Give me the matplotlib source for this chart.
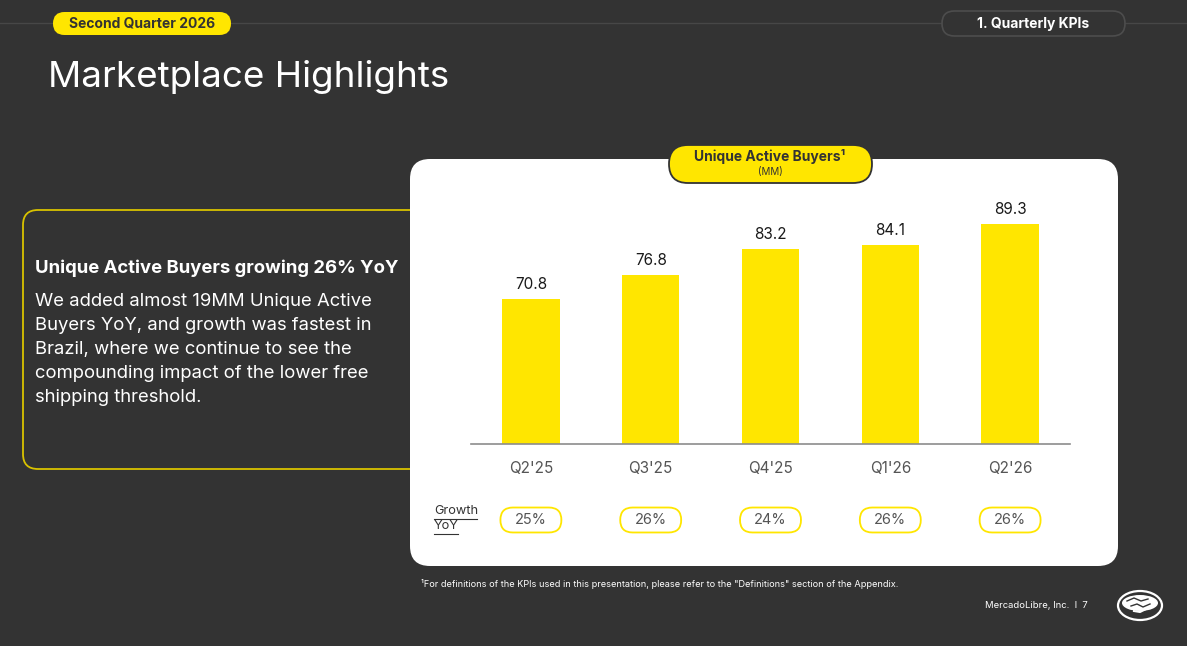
import matplotlib
matplotlib.use("Agg")
import matplotlib.pyplot as plt
from matplotlib.patches import FancyBboxPatch, Ellipse, PathPatch
from matplotlib.path import Path

plt.rcParams['font.family'] = ['Inter', 'DejaVu Sans']

# ---- data ----
quarters = ["Q2'25", "Q3'25", "Q4'25", "Q1'26", "Q2'26"]
buyers_mm = [70.8, 76.8, 83.2, 84.1, 89.3]
growth_yoy = ["25%", "26%", "24%", "26%", "26%"]

BG = "#333333"
YEL = "#FFE600"
W, H = 1187, 646

fig = plt.figure(figsize=(W / 100, H / 100), dpi=100, facecolor=BG)

# background canvas in pixel coords
bg = fig.add_axes([0, 0, 1, 1])
bg.set_xlim(0, W)
bg.set_ylim(H, 0)
bg.axis("off")
bg.set_facecolor(BG)

# top rule
bg.plot([0, W], [23, 23], color="#474747", lw=1, zorder=1)

# Second Quarter pill
bg.add_patch(FancyBboxPatch((53, 12), 178, 23, boxstyle="round,pad=0,rounding_size=11.5",
                            fc=YEL, ec="none", zorder=2))
bg.text(142, 24, "Second Quarter 2026", color="#333333", fontsize=10, fontweight="bold",
        ha="center", va="center", zorder=3)

# Quarterly KPIs pill
bg.add_patch(FancyBboxPatch((942, 11), 183, 25, boxstyle="round,pad=0,rounding_size=12.5",
                            fc=BG, ec="#4d4d4d", lw=1.2, zorder=2))
bg.text(1033, 24, "1. Quarterly KPIs", color="white", fontsize=10, fontweight="bold",
        ha="center", va="center", zorder=3)

# Title
bg.text(48, 77, "Marketplace Highlights", color="white", fontsize=26.5,
        ha="left", va="center", zorder=3)

# Left highlight box (open on right)
r = 15
verts = [(410, 210), (23 + r, 210), (23, 210), (23, 210 + r), (23, 469 - r),
         (23, 469), (23 + r, 469), (410, 469)]
codes = [Path.MOVETO, Path.LINETO, Path.CURVE3, Path.CURVE3, Path.LINETO,
         Path.CURVE3, Path.CURVE3, Path.LINETO]
bg.add_patch(PathPatch(Path(verts, codes), fc="none", ec="#d9c200", lw=1.3, zorder=2))

bg.text(35, 268, "Unique Active Buyers growing 26% YoY", color="white", fontsize=13.3,
        fontweight="bold", ha="left", va="center", zorder=3)
body = ["We added almost 19MM Unique Active",
        "Buyers YoY, and growth was fastest in",
        "Brazil, where we continue to see the",
        "compounding impact of the lower free",
        "shipping threshold."]
for i, line in enumerate(body):
    bg.text(35, 301 + i * 24.2, line, color="white", fontsize=13.3,
            ha="left", va="center", zorder=3)

# White card
bg.add_patch(FancyBboxPatch((410, 159), 708, 407, boxstyle="round,pad=0,rounding_size=20",
                            fc="white", ec="none", zorder=4))

# Card title pill
bg.add_patch(FancyBboxPatch((669, 145), 203, 38, boxstyle="round,pad=0,rounding_size=19",
                            fc=YEL, ec="#333333", lw=1.3, zorder=5))
bg.text(770, 157, "Unique Active Buyers¹", color="#333333", fontsize=10, fontweight="bold",
        ha="center", va="center", zorder=6)
bg.text(770, 172, "(MM)", color="#333333", fontsize=7, ha="center", va="center", zorder=6)

# Growth YoY label (underlined)
bg.text(434, 511, "Growth", color="#333333", fontsize=9.2, ha="left", va="center", zorder=6)
bg.text(434, 526, "YoY", color="#333333", fontsize=9.2, ha="left", va="center", zorder=6)
bg.plot([434, 477], [518.5, 518.5], color="#333333", lw=0.8, zorder=6)
bg.plot([434, 458], [533.5, 533.5], color="#333333", lw=0.8, zorder=6)

# Footnote and footer
bg.text(421, 584, "¹For definitions of the KPIs used in this presentation, please refer to the "
        "\"Definitions\" section of the Appendix.", color="white", fontsize=6.6,
        ha="left", va="center", zorder=3)
bg.text(1088, 606, "MercadoLibre, Inc.  I  7", color="white", fontsize=6.8,
        ha="right", va="center", zorder=3)

# Logo: handshake in ellipse (simplified)
bg.add_patch(Ellipse((1140, 605.5), 44, 29, fc="none", ec="white", lw=1.6, zorder=3))
bg.add_patch(Ellipse((1140, 603), 36, 16, fc="white", ec="none", zorder=3))
bg.plot([1127, 1134, 1141, 1148], [601, 598, 601, 599], color=BG, lw=1.0, zorder=4)
bg.plot([1131, 1137, 1143, 1150], [606, 604, 607, 604], color=BG, lw=1.0, zorder=4)
bg.plot([1134, 1140, 1146], [611, 612, 609], color="white", lw=1.5, zorder=4)

# ---- bar chart ----
def fx(x):
    return x / W

def fy(y):
    return 1 - y / H

ax_top, ax_bot, ax_l, ax_r = 200, 444, 471, 1070
ax = fig.add_axes([fx(ax_l), fy(ax_bot), fx(ax_r) - fx(ax_l), fy(ax_top) - fy(ax_bot)])
ax.set_facecolor("none")
ax.set_zorder(10)
xs = list(range(len(quarters)))
bars = ax.bar(xs, buyers_mm, width=0.48, color=YEL, zorder=2)
ax.set_xlim(-0.5, len(quarters) - 0.5)
ax.set_ylim(35, 35 + (ax_bot - ax_top) / 4.05)
for b, v in zip(bars, buyers_mm):
    ax.annotate(f"{v:.1f}", (b.get_x() + b.get_width() / 2, v), xytext=(0, 4.8),
                textcoords="offset points", ha="center", va="bottom",
                fontsize=11, color="#1a1a1a")
for s in ["top", "right", "left"]:
    ax.spines[s].set_visible(False)
ax.spines["bottom"].set_color("#8c8c8c")
ax.spines["bottom"].set_linewidth(1.2)
ax.set_yticks([])
ax.set_xticks(xs)
ax.set_xticklabels(quarters, fontsize=11, color="#555555")
ax.tick_params(axis="x", length=0, pad=12)

# growth pills row (shares x scale with the chart)
row_top, row_bot = 507, 533
gax = fig.add_axes([fx(ax_l), fy(row_bot), fx(ax_r) - fx(ax_l), fy(row_top) - fy(row_bot)])
gax.set_zorder(11)
gax.set_xlim(-0.5, len(quarters) - 0.5)
gax.set_ylim(0, 1)
gax.axis("off")
px_x = (len(quarters)) / (ax_r - ax_l)      # data units per pixel, x
px_y = 1.0 / (row_bot - row_top)            # data units per pixel, y
pill_w = 61 * px_x
for x, g in zip(xs, growth_yoy):
    gax.add_patch(FancyBboxPatch((x - pill_w / 2, 0.02), pill_w, 0.96,
                                 boxstyle=f"round,pad=0,rounding_size={12.5 * px_x}",
                                 mutation_aspect=px_y / px_x,
                                 fc="white", ec=YEL, lw=1.3, clip_on=False))
    gax.text(x, 0.5, g, ha="center", va="center", fontsize=10.5, color="#555555")

fig.savefig("out.png", dpi=100, facecolor=BG)
